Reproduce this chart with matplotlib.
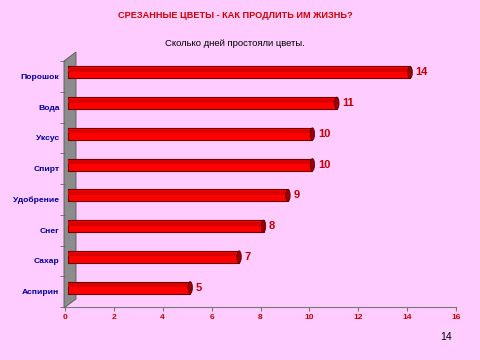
import matplotlib.pyplot as plt
import matplotlib.transforms as mtransforms
from matplotlib.patches import Ellipse, Polygon

# data
categories = ["Порошок", "Вода", "Уксус", "Спирт", "Удобрение", "Снег", "Сахар", "Аспирин"]
days = [14, 11, 10, 10, 9, 8, 7, 5]
xticks = [0, 2, 4, 6, 8, 10, 12, 14, 16]

plt.rcParams['font.family'] = ['Liberation Sans', 'DejaVu Sans']
bg = '#FFCCFF'
W, H = 480, 360

fig = plt.figure(figsize=(4.8, 3.6), dpi=100, facecolor=bg)
ax = fig.add_axes([65 / W, 1 - 307 / H, (456 - 65) / W, (307 - 61) / H])
ax.set_facecolor('none')

# 3d wall on the left (pixel coords)
def px(x, y):
    return (x / W, 1 - y / H)

wall = Polygon([px(64, 61), px(76, 52), px(76, 299), px(64, 308)],
               closed=True, transform=fig.transFigure, facecolor='#8C8C8C',
               edgecolor='#555555', lw=0.6, zorder=1, clip_on=False)
ax.add_artist(wall)

# bars drawn slightly back (3d depth shift)
shift = ax.transData + mtransforms.ScaledTranslation(3 / 100, 4 / 100, fig.dpi_scale_trans)
ypos = list(range(len(categories)))
bar_h = 0.39
for y, v in zip(ypos, days):
    ax.barh(y, v, height=bar_h, color='#FF0000', edgecolor='#700000', lw=0.8,
            transform=shift, zorder=3)
    ax.barh(y - bar_h * 0.2, v, height=bar_h * 0.3, color='#D80000', lw=0,
            transform=shift, zorder=3)
    cap = Ellipse((v, y), 0.18, bar_h, facecolor='#990000', edgecolor='#600000',
                  lw=0.6, transform=shift, zorder=4)
    ax.add_patch(cap)
    ax.text(v + 0.22, y, str(v), transform=shift, ha='left', va='center',
            fontsize=8, fontweight='bold', color='#C00000', zorder=5)

ax.set_xlim(0, 16)
ax.set_ylim(len(categories) - 0.5, -0.5)
ax.set_xticks(xticks)
ax.set_xticklabels([str(t) for t in xticks], fontsize=6, fontweight='bold', color='#C00000')
ax.set_yticks(ypos)
ax.set_yticklabels(categories, fontsize=6.1, fontweight='bold', color='#000099')
ax.set_yticks([i + 0.5 for i in range(-1, len(categories))], minor=True)
ax.tick_params(axis='y', which='major', length=0, pad=4)
ax.tick_params(axis='y', which='minor', length=3.5, color='#666666', width=0.6)
ax.tick_params(axis='x', length=3, color='#777777', width=0.8, pad=2)

for s in ['top', 'right', 'left']:
    ax.spines[s].set_visible(False)
ax.spines['bottom'].set_color('#777777')
ax.spines['bottom'].set_linewidth(0.8)

fig.text(235 / W, 1 - 15 / H, "СРЕЗАННЫЕ ЦВЕТЫ - КАК ПРОДЛИТЬ ИМ ЖИЗНЬ?", ha='center',
         va='center', fontsize=6.6, fontweight='bold', color='#CC0000')
fig.text(235 / W, 1 - 44 / H, "Сколько дней простояли цветы.", ha='center',
         va='center', fontsize=6.8, color='black')
fig.text(446 / W, 1 - 337 / H, "14", ha='center', va='center', fontsize=7.5, color='black')

fig.savefig('out.png', dpi=100, facecolor=bg)
